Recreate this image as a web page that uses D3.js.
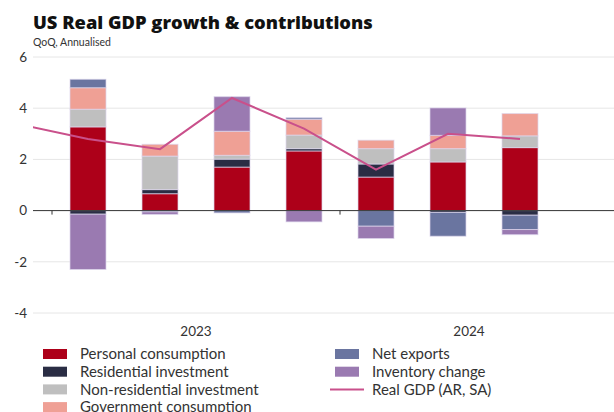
<!DOCTYPE html>
<html>
<head>
<meta charset="utf-8">
<script src="https://cdn.jsdelivr.net/npm/d3@7"></script>
<style>
  body { margin: 0; background: #fff; }
  svg { display: block; }
  text { fill: #333; }
</style>
</head>
<body>
<div id="chart"></div>
<script>
const quarters = ["2022Q4", "2023Q1", "2023Q2", "2023Q3", "2023Q4", "2024Q1", "2024Q2", "2024Q3"];
const seriesNames = ["Personal consumption", "Residential investment", "Non-residential investment",
  "Government consumption", "Net exports", "Inventory change"];
const seriesColors = ["#ad0019", "#2a2d44", "#bfbfbf", "#efa095", "#6a75a0", "#9a7ab1"];

// contributions, percentage points (2023Q1 .. 2024Q3)
const barQuarters = quarters.slice(1);
const personal = [3.27, 0.66, 1.70, 2.33, 1.31, 1.90, 2.46];
const residential = [-0.14, 0.16, 0.31, 0.09, 0.51, -0.07, -0.18];
const nonResidential = [0.69, 1.31, 0.15, 0.53, 0.60, 0.52, 0.46];
const government = [0.84, 0.46, 0.94, 0.62, 0.33, 0.52, 0.87];
const netExports = [0.33, -0.05, -0.09, 0.06, -0.61, -0.93, -0.56];
const inventory = [-2.16, -0.10, 1.35, -0.44, -0.48, 1.07, -0.20];

const gdp = [3.4, 2.8, 2.4, 4.4, 3.2, 1.6, 3.0, 2.8];
const yTicks = [-4, -2, 0, 2, 4, 6];
const years = ["2023", "2024"];

const W = 614, H = 412;
const plotLeft = 33, plotRight = 614;

const svg = d3.select("#chart").append("svg")
  .attr("width", W).attr("height", H)
  .style("font-family", "Lato, 'Open Sans', sans-serif");

const title = svg.append("text")
  .attr("x", 33).attr("y", 29)
  .style("font-family", "'Open Sans', sans-serif")
  .style("font-size", "20px").style("font-weight", 800)
  .style("fill", "#111")
  .text("US Real GDP growth & contributions");
// fit the title to the width it has in the original
const tw = title.node().getComputedTextLength();
title.style("font-size", (20 * 340 / tw).toFixed(2) + "px");

svg.append("text")
  .attr("x", 33).attr("y", 46)
  .style("font-size", "10.5px")
  .text("QoQ, Annualised");

const y = d3.scaleLinear().domain([-4, 6]).range([313, 57]);
const x = d3.scaleBand().domain(quarters).range([-20, 556])
  .paddingInner(0.5).paddingOuter(0.25);

// grid
svg.append("g").selectAll("line").data(yTicks.filter(d => d !== 0)).join("line")
  .attr("x1", plotLeft).attr("x2", plotRight)
  .attr("y1", d => y(d)).attr("y2", d => y(d))
  .attr("stroke", "#e6e6e6").attr("stroke-width", 1);

svg.append("g").selectAll("text").data(yTicks).join("text")
  .attr("x", 27).attr("y", d => y(d)).attr("dy", "0.35em")
  .attr("text-anchor", "end")
  .style("font-size", "13.5px")
  .text(d => d);

// stacked bars
const table = barQuarters.map((q, i) => ({
  q,
  "Personal consumption": personal[i],
  "Residential investment": residential[i],
  "Non-residential investment": nonResidential[i],
  "Government consumption": government[i],
  "Net exports": netExports[i],
  "Inventory change": inventory[i]
}));
const stack = d3.stack().keys(seriesNames).offset(d3.stackOffsetDiverging)(table);
const color = d3.scaleOrdinal().domain(seriesNames).range(seriesColors);

svg.append("g").selectAll("g").data(stack).join("g")
  .attr("fill", d => color(d.key))
  .selectAll("rect").data(d => d).join("rect")
  .attr("x", d => x(d.data.q))
  .attr("width", x.bandwidth())
  .attr("y", d => y(Math.max(d[0], d[1])))
  .attr("height", d => Math.abs(y(d[0]) - y(d[1])))
  .attr("stroke", "#ddd6ec").attr("stroke-width", 1).attr("stroke-opacity", 0.7);

// zero axis with year ticks
svg.append("line")
  .attr("x1", plotLeft).attr("x2", plotRight)
  .attr("y1", y(0)).attr("y2", y(0))
  .attr("stroke", "#333").attr("stroke-width", 1);

const slotStart = q => x(q) - x.step() * x.paddingInner() / 2;
const yearStart = years.map(yr => slotStart(yr + "Q1"));
svg.append("g").selectAll("line").data(yearStart).join("line")
  .attr("x1", d => d).attr("x2", d => d)
  .attr("y1", y(0)).attr("y2", y(0) + 4)
  .attr("stroke", "#333");

const labelRight = 598;
svg.append("g").selectAll("text").data(years).join("text")
  .attr("x", (d, i) => (yearStart[i] + Math.min(yearStart[i] + 4 * x.step(), labelRight)) / 2)
  .attr("y", 336)
  .attr("text-anchor", "middle")
  .style("font-size", "13.5px")
  .text(d => d);

// GDP line
svg.append("clipPath").attr("id", "clip")
  .append("rect").attr("x", plotLeft).attr("y", 0).attr("width", plotRight - plotLeft).attr("height", H);

const line = d3.line()
  .x((d, i) => x(quarters[i]) + x.bandwidth() / 2)
  .y(d => y(d));

svg.append("path")
  .datum(gdp)
  .attr("clip-path", "url(#clip)")
  .attr("d", line)
  .attr("fill", "none")
  .attr("stroke", "#c9508b")
  .attr("stroke-width", 2);

// legend
const legendItems = seriesNames.map((name, i) => ({ name, color: seriesColors[i], type: "rect" }));
legendItems.push({ name: "Real GDP (AR, SA)", color: "#c9508b", type: "line" });

const legend = svg.append("g");
const item = legend.selectAll("g").data(legendItems).join("g")
  .attr("transform", (d, i) => {
    const col = i < 4 ? 0 : 1;
    const row = i < 4 ? i : i - 4;
    return `translate(${col === 0 ? 43 : 335},${354 + row * 17.7})`;
  });

item.filter(d => d.type === "rect").append("rect")
  .attr("x", 0).attr("y", -5).attr("width", 24).attr("height", 10)
  .attr("fill", d => d.color);

item.filter(d => d.type === "line").append("line")
  .attr("x1", -5).attr("x2", 29).attr("y1", 0).attr("y2", 0)
  .attr("stroke", d => d.color).attr("stroke-width", 2);

item.append("text")
  .attr("x", 37).attr("y", 0).attr("dy", "0.35em")
  .style("font-size", "15px")
  .text(d => d.name);
</script>
</body>
</html>
